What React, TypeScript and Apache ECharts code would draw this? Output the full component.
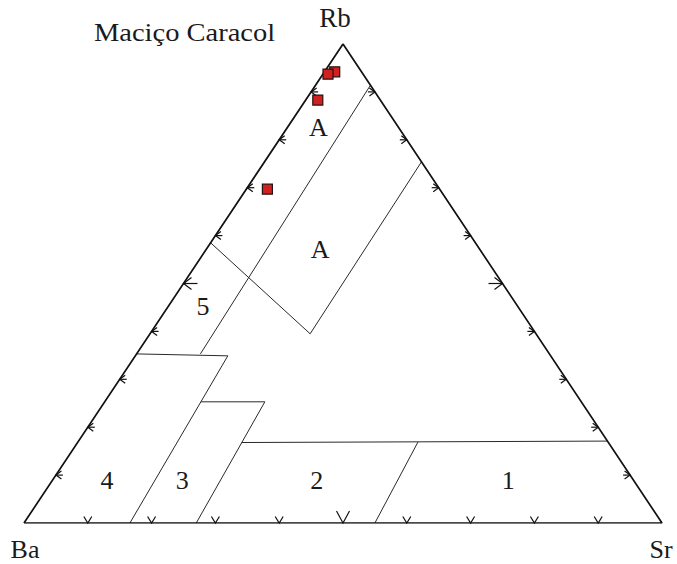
import React, { useEffect, useRef } from 'react';
import * as echarts from 'echarts';

// Sample compositions (percent of Rb + Ba + Sr)
const rbValues = [94.2, 93.7, 88.3, 69.7];
const baValues = [4.2, 5.5, 9.8, 27.0];
const srValues = [1.6, 0.8, 1.9, 3.3];

// Field boundaries, each a polyline of [Rb, Ba, Sr] vertices
const fieldLines: number[][][] = [
  [[91.4, 0, 8.6], [35.3, 54.7, 10.0]],
  [[75.4, 0, 24.6], [39.5, 35.4, 25.1], [58.5, 41.5, 0]],
  [[35.3, 64.7, 0], [34.9, 50.6, 14.5], [0, 83.4, 16.6]],
  [[25.3, 59.6, 15.1], [25.3, 49.6, 25.1], [0, 73.0, 27.0]],
  [[16.8, 57.5, 25.7], [17.1, 0, 82.9]],
  [[16.9, 29.8, 53.3], [0, 45.0, 55.0]],
];

// Field names and where they sit (Rb %, Sr %)
const fieldNames = ['1', '2', '3', '4', '5', 'A', 'A'];
const fieldRb = [8.8, 8.8, 8.8, 8.8, 45.3, 82.5, 57.0];
const fieldSr = [71.5, 41.5, 20.4, 8.6, 5.4, 4.9, 17.9];

// Edge ticks every 10 %
const tickPercents = [10, 20, 30, 40, 50, 60, 70, 80, 90];

const FONT = '"Liberation Serif", "Times New Roman", serif';

const toXY = (rb: number, ba: number, sr: number): number[] => {
  const s = rb + ba + sr;
  return [(sr + rb / 2) / s, rb / s];
};

export default function App() {
  const ref = useRef<HTMLDivElement>(null);

  useEffect(() => {
    if (!ref.current) return;
    const chart = echarts.init(ref.current, null, { renderer: 'svg' });

    const pointData = rbValues.map((rb, i) => toXY(rb, baValues[i], srValues[i]));

    const tickData: number[][] = [];
    tickPercents.forEach((p) => {
      const f = p / 100;
      const major = p === 50 ? 1 : 0;
      tickData.push([f, 0, 0, major]); // Ba–Sr base
      tickData.push([f / 2, f, 1, major]); // Ba–Rb side
      tickData.push([1 - f / 2, f, 2, major]); // Sr–Rb side
    });

    const labelData = fieldNames.map((_, i) =>
      toXY(fieldRb[i], 100 - fieldRb[i] - fieldSr[i], fieldSr[i])
    );

    const lineStyleThin = { color: '#2a2a2a', width: 1 };

    const series: any[] = [
      {
        type: 'line',
        data: [[0, 0], [1, 0], [0.5, 1], [0, 0]],
        symbol: 'none',
        lineStyle: { color: '#111', width: 1.7 },
        z: 3,
        silent: true,
      },
      ...fieldLines.map((pl) => ({
        type: 'line',
        data: pl.map((v) => toXY(v[0], v[1], v[2])),
        symbol: 'none',
        lineStyle: lineStyleThin,
        z: 2,
        silent: true,
      })),
      {
        type: 'custom',
        data: tickData,
        silent: true,
        z: 4,
        renderItem: (params: any, api: any) => {
          const p = api.coord([api.value(0), api.value(1)]);
          const edge = api.value(2);
          const major = api.value(3) === 1;
          const st = { stroke: '#111', lineWidth: 1.2, fill: 'none' };
          const x = p[0];
          const y = p[1];
          if (edge === 0) {
            const w = major ? 6.5 : 4;
            const h = major ? 12 : 6.5;
            return {
              type: 'polyline',
              shape: { points: [[x - w, y - h], [x, y], [x + w, y - h]] },
              style: st,
            };
          }
          const dir = edge === 1 ? 1 : -1;
          const h = major ? 8 : 5.5;
          const w = major ? 6 : 4;
          const L = major ? 14 : 7;
          return {
            type: 'group',
            children: [
              {
                type: 'polyline',
                shape: { points: [[x + dir * h, y - w], [x, y], [x + dir * h, y + w]] },
                style: st,
              },
              {
                type: 'line',
                shape: { x1: x, y1: y, x2: x + dir * L, y2: y },
                style: st,
              },
            ],
          };
        },
      },
      {
        type: 'custom',
        data: labelData,
        silent: true,
        z: 5,
        renderItem: (params: any, api: any) => {
          const p = api.coord([api.value(0), api.value(1)]);
          return {
            type: 'text',
            x: p[0],
            y: p[1],
            style: {
              text: fieldNames[params.dataIndex],
              fontFamily: FONT,
              fontSize: 26,
              fill: '#1a1a1a',
              align: 'center',
              verticalAlign: 'middle',
            },
          };
        },
      },
      {
        type: 'scatter',
        data: pointData,
        symbol: 'rect',
        symbolSize: 10,
        itemStyle: { color: '#d12020', borderColor: '#2a1010', borderWidth: 1.2, opacity: 1 },
        z: 10,
      },
    ];

    chart.setOption({
      animation: false,
      backgroundColor: '#fff',
      grid: { left: 24, right: 15, top: 44, bottom: 41, containLabel: false },
      xAxis: {
        type: 'value', min: 0, max: 1,
        show: false,
      },
      yAxis: {
        type: 'value', min: 0, max: 1,
        show: false,
      },
      graphic: [
        {
          type: 'text',
          x: 94,
          y: 33,
          scaleX: 1.14,
          style: {
            text: 'Maciço Caracol',
            fontFamily: FONT,
            fontSize: 25,
            fill: '#1a1a1a',
            align: 'left',
            verticalAlign: 'middle',
          },
        },
        {
          type: 'text',
          x: 335,
          y: 18,
          style: { text: 'Rb', fontFamily: FONT, fontSize: 27, fill: '#1a1a1a', align: 'center', verticalAlign: 'middle' },
        },
        {
          type: 'text',
          x: 25,
          y: 549,
          style: { text: 'Ba', fontFamily: FONT, fontSize: 26, fill: '#1a1a1a', align: 'center', verticalAlign: 'middle' },
        },
        {
          type: 'text',
          x: 661,
          y: 549,
          style: { text: 'Sr', fontFamily: FONT, fontSize: 26, fill: '#1a1a1a', align: 'center', verticalAlign: 'middle' },
        },
      ],
      series,
    });

    return () => chart.dispose();
  }, []);

  return (
    <div
      ref={ref}
      style={{ position: 'fixed', left: 0, top: 0, width: 677, height: 564, background: '#fff' }}
    />
  );
}
